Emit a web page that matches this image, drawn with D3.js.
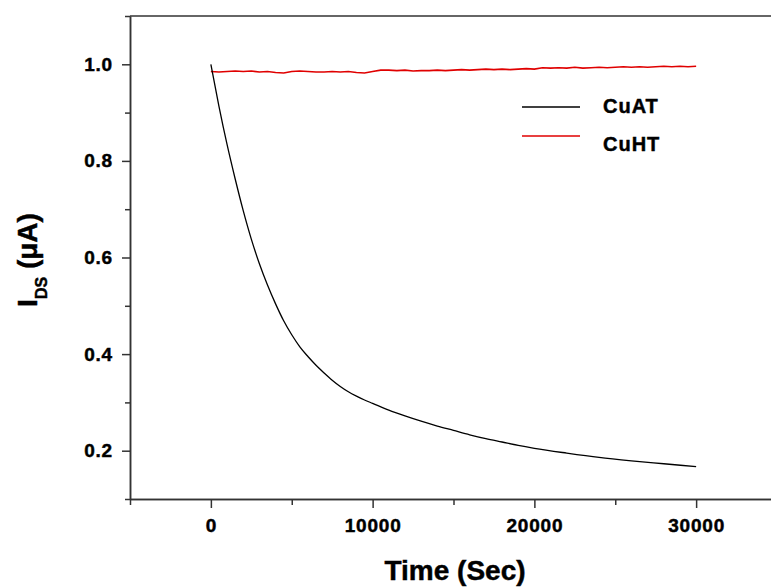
<!DOCTYPE html>
<html>
<head>
<meta charset="utf-8">
<script src="https://cdn.jsdelivr.net/npm/d3@7"></script>
<style>
  html, body { margin: 0; padding: 0; background: #fff; }
  svg { display: block; }
  text { font-family: "Liberation Sans", Arial, sans-serif; font-weight: bold; fill: #000; stroke: #000; stroke-width: 0.45; }
</style>
</head>
<body>
<svg id="chart" width="771" height="588"></svg>
<script>
// ---- data ----
const cuatTime = [0, 500, 1000, 1500, 2000, 2500, 3000, 3500, 4000, 4500, 5000, 5500, 6000, 6500,
  7000, 7500, 8000, 8500, 9000, 9500, 10000, 11000, 12000, 13000, 14000, 15000, 16000, 17000, 18000, 19000, 20000,
  22000, 24000, 26000, 28000, 30000];
const cuatValues = [1.0, 0.913, 0.834, 0.763, 0.697, 0.638, 0.587, 0.543, 0.504, 0.469, 0.44, 0.415, 0.395, 0.377,
  0.361, 0.346, 0.333, 0.322, 0.313, 0.305, 0.298, 0.284, 0.272, 0.261, 0.251, 0.242, 0.233, 0.225, 0.218, 0.211, 0.205,
  0.195, 0.186, 0.179, 0.173, 0.167];

const cuhtTime = d3.range(0, 30001, 500);
const cuhtValues = [
  0.985, 0.984, 0.985, 0.986, 0.985, 0.986, 0.984, 0.985, 0.983, 0.982, 0.985, 0.986, 0.985, 0.984, 0.984,
  0.985, 0.984, 0.985, 0.983, 0.982, 0.985,
  0.988, 0.988, 0.987, 0.988, 0.986, 0.987, 0.987, 0.988, 0.987, 0.988, 0.989, 0.988, 0.989, 0.990,
  0.989, 0.990, 0.989, 0.990, 0.991, 0.990,
  0.993, 0.992, 0.993, 0.992, 0.994, 0.992, 0.993, 0.994, 0.993, 0.994, 0.995, 0.994, 0.995, 0.994,
  0.995, 0.996, 0.995, 0.996, 0.995, 0.996];

const xMajorTicks = [0, 10000, 20000, 30000];
const xMinorTicks = [-5000, 5000, 15000, 25000, 35000];
const yMajorTicks = [0.2, 0.4, 0.6, 0.8, 1.0];
const yMinorTicks = [0.1, 0.3, 0.5, 0.7, 0.9, 1.1];
const seriesNames = ["CuAT", "CuHT"];
const seriesColors = ["#000000", "#e00000"];

// ---- layout ----
const svg = d3.select("#chart");
const x = d3.scaleLinear().domain([-5000, 35000]).range([130, 777]);
const y = d3.scaleLinear().domain([0.1, 1.1]).range([499, 16]);
const axisColor = "#333";

// frame: top line
svg.append("line").attr("x1", x(-5000)).attr("x2", x(35000))
  .attr("y1", y(1.1)).attr("y2", y(1.1))
  .attr("stroke", axisColor).attr("stroke-width", 1.5);

function styleAxis(g) {
  g.select(".domain").attr("stroke", axisColor).attr("stroke-width", 1.5);
  g.selectAll(".tick line").attr("stroke", axisColor).attr("stroke-width", 1.5);
}
function styleLabels(g) {
  g.selectAll(".tick text").attr("font-size", 19).attr("font-family", "Liberation Sans, Arial")
    .attr("font-weight", "bold").attr("letter-spacing", 0.8).attr("stroke", "#000").attr("stroke-width", 0.45);
}

const xAxis = svg.append("g").attr("transform", `translate(0,${y(0.1)})`)
  .call(d3.axisBottom(x).tickValues(xMajorTicks).tickFormat(d3.format("d")).tickSize(9).tickPadding(11).tickSizeOuter(0));
styleAxis(xAxis);
styleLabels(xAxis);

const xMinor = svg.append("g").attr("transform", `translate(0,${y(0.1)})`)
  .call(d3.axisBottom(x).tickValues(xMinorTicks).tickFormat("").tickSize(6).tickSizeOuter(0));
styleAxis(xMinor);

const yAxis = svg.append("g").attr("transform", `translate(${x(-5000)},0)`)
  .call(d3.axisLeft(y).tickValues(yMajorTicks).tickFormat(d3.format(".1f")).tickSize(8).tickPadding(9).tickSizeOuter(0));
styleAxis(yAxis);
styleLabels(yAxis);

const yMinor = svg.append("g").attr("transform", `translate(${x(-5000)},0)`)
  .call(d3.axisLeft(y).tickValues(yMinorTicks).tickFormat("").tickSize(5).tickSizeOuter(0));
styleAxis(yMinor);

// lines
const cuat = cuatTime.map((t, i) => ({ t, v: cuatValues[i] }));
const cuht = cuhtTime.map((t, i) => ({ t, v: cuhtValues[i] }));
const line = d3.line().x(d => x(d.t)).y(d => y(d.v));
const lineSmooth = d3.line().x(d => x(d.t)).y(d => y(d.v)).curve(d3.curveMonotoneX);

svg.append("path").datum(cuht).attr("d", line)
  .attr("fill", "none").attr("stroke", seriesColors[1]).attr("stroke-width", 1.6);
svg.append("path").datum(cuat).attr("d", lineSmooth)
  .attr("fill", "none").attr("stroke", seriesColors[0]).attr("stroke-width", 1.3);

// legend
const legendY = [107, 136];
const legendTextY = [113, 151];
seriesNames.forEach((name, i) => {
  svg.append("line").attr("x1", 522).attr("x2", 580)
    .attr("y1", legendY[i]).attr("y2", legendY[i])
    .attr("stroke", seriesColors[i]).attr("stroke-width", 1.3);
  svg.append("text").attr("x", 603).attr("y", legendTextY[i])
    .attr("font-size", 20).attr("letter-spacing", 1).text(name);
});

// axis titles
svg.append("text").attr("x", 455).attr("y", 580).attr("text-anchor", "middle")
  .attr("font-size", 28).text("Time (Sec)");

const yt = svg.append("text").attr("transform", "translate(37,260) rotate(-90)")
  .attr("text-anchor", "middle").attr("font-size", 28);
yt.append("tspan").text("I");
yt.append("tspan").attr("font-size", 16).attr("dy", 10).text("DS");
yt.append("tspan").attr("dy", -10).text(" (\u03bcA)");
</script>
</body>
</html>
